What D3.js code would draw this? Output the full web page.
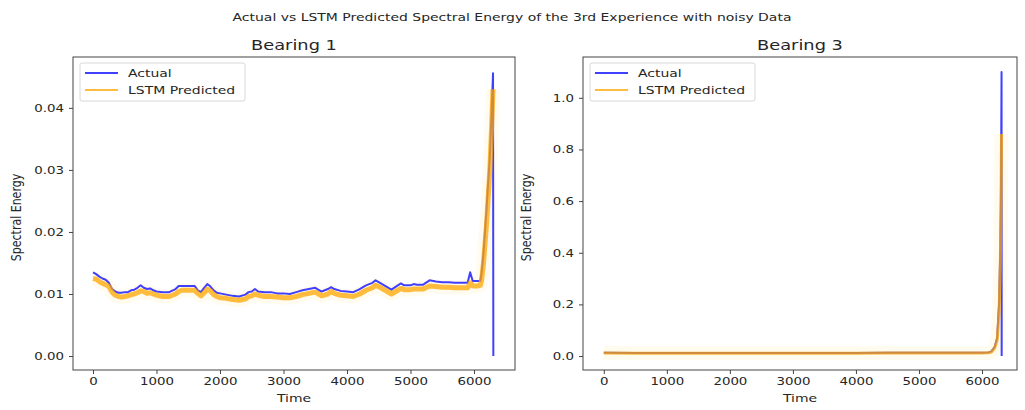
<!DOCTYPE html>
<html>
<head>
<meta charset="utf-8">
<script src="https://cdn.jsdelivr.net/npm/d3@7/dist/d3.min.js"></script>
<style>
  html, body { margin: 0; padding: 0; background: #fff; }
  svg { display: block; }
  text { font-family: "DejaVu Sans", sans-serif; fill: #262626; }
</style>
</head>
<body>
<svg id="chart" width="1025" height="410"></svg>
<script>
// ---- data -------------------------------------------------------------
const figureTitle = "Actual vs LSTM Predicted Spectral Energy of the 3rd Experience with noisy Data";
const panelTitles = ["Bearing 1", "Bearing 3"];
const seriesNames = ["Actual", "LSTM Predicted"];
const xLabel = "Time";
const yLabel = "Spectral Energy";
const xTicks = [0, 1000, 2000, 3000, 4000, 5000, 6000];
const yTicksB1 = [0.00, 0.01, 0.02, 0.03, 0.04];
const yTicksB3 = [0.0, 0.2, 0.4, 0.6, 0.8, 1.0];

// Bearing 1: [time, spectral energy]
const b1Actual = [
  [0,0.0135],[50,0.0132],[100,0.0128],[150,0.0125],[200,0.0123],[250,0.0118],[300,0.0108],
  [350,0.0104],[400,0.0102],[450,0.0102],[500,0.0103],[550,0.0103],[600,0.0106],[650,0.0107],
  [700,0.0110],[750,0.0114],[800,0.0110],[850,0.0108],[900,0.0109],[950,0.0106],[1000,0.0104],
  [1100,0.0103],[1200,0.0103],[1300,0.0108],[1350,0.0113],[1400,0.0113],[1500,0.0113],
  [1600,0.0113],[1650,0.0106],[1700,0.0103],[1750,0.0110],[1800,0.0116],[1850,0.0112],
  [1900,0.0106],[1950,0.0102],[2000,0.0101],[2100,0.0099],[2200,0.0097],[2300,0.0096],
  [2400,0.0099],[2450,0.0103],[2500,0.0104],[2550,0.0108],[2600,0.0104],[2700,0.0103],
  [2800,0.0103],[2900,0.0101],[3000,0.0101],[3100,0.0100],[3200,0.0103],[3300,0.0106],
  [3400,0.0108],[3500,0.0110],[3600,0.0104],[3700,0.0108],[3750,0.0111],[3800,0.0108],
  [3900,0.0105],[4000,0.0104],[4100,0.0103],[4200,0.0108],[4300,0.0114],[4400,0.0118],
  [4450,0.0122],[4500,0.0119],[4600,0.0113],[4700,0.0107],[4800,0.0114],[4850,0.0117],
  [4900,0.0114],[5000,0.0114],[5050,0.0116],[5100,0.0115],[5200,0.0115],[5300,0.0122],
  [5400,0.0120],[5500,0.0119],[5600,0.0119],[5700,0.0118],[5800,0.0118],[5900,0.0118],
  [5940,0.0135],[5980,0.0121],[6050,0.0121],[6100,0.0121],[6120,0.0134],[6150,0.0165],
  [6200,0.0240],[6250,0.0322],[6280,0.0400],[6300,0.0456],[6305,0.0000]
];
const b1Predicted = [
  [0,0.0125],[50,0.0124],[100,0.0120],[150,0.0117],[200,0.0115],[250,0.0112],[300,0.0103],
  [350,0.0098],[400,0.0096],[450,0.0095],[500,0.0096],[550,0.0097],[600,0.0099],[650,0.0100],
  [700,0.0102],[750,0.0105],[800,0.0104],[850,0.0101],[900,0.0102],[950,0.0100],[1000,0.0098],
  [1100,0.0096],[1200,0.0096],[1300,0.0100],[1350,0.0104],[1400,0.0106],[1500,0.0106],
  [1600,0.0106],[1650,0.0101],[1700,0.0097],[1750,0.0102],[1800,0.0108],[1850,0.0105],
  [1900,0.0099],[1950,0.0096],[2000,0.0094],[2100,0.0093],[2200,0.0091],[2300,0.0090],
  [2400,0.0092],[2450,0.0096],[2500,0.0097],[2550,0.0100],[2600,0.0098],[2700,0.0096],
  [2800,0.0096],[2900,0.0095],[3000,0.0094],[3100,0.0094],[3200,0.0096],[3300,0.0099],
  [3400,0.0101],[3500,0.0103],[3600,0.0097],[3700,0.0100],[3750,0.0104],[3800,0.0101],
  [3900,0.0098],[4000,0.0097],[4100,0.0096],[4200,0.0100],[4300,0.0106],[4400,0.0110],
  [4450,0.0114],[4500,0.0112],[4600,0.0106],[4700,0.0100],[4800,0.0106],[4850,0.0109],
  [4900,0.0107],[5000,0.0107],[5050,0.0108],[5100,0.0108],[5200,0.0108],[5300,0.0113],
  [5400,0.0112],[5500,0.0111],[5600,0.0111],[5700,0.0110],[5800,0.0110],[5900,0.0110],
  [5940,0.0118],[5980,0.0113],[6050,0.0113],[6100,0.0114],[6120,0.0122],[6150,0.0150],
  [6200,0.0215],[6250,0.0300],[6280,0.0375],[6300,0.0430]
];

// Bearing 3: [time, spectral energy]
const b3Actual = [
  [0,0.013],[500,0.012],[1000,0.012],[1500,0.012],[2000,0.012],[2500,0.012],[3000,0.012],
  [3500,0.012],[4000,0.012],[4500,0.013],[5000,0.013],[5500,0.013],[6000,0.013],[6100,0.014],
  [6150,0.018],[6200,0.035],[6240,0.070],[6270,0.200],[6290,0.420],[6300,0.600],[6310,1.100],
  [6312,0.000]
];
const b3Predicted = [
  [0,0.012],[500,0.011],[1000,0.011],[1500,0.011],[2000,0.011],[2500,0.011],[3000,0.011],
  [3500,0.011],[4000,0.011],[4500,0.012],[5000,0.012],[5500,0.012],[6000,0.012],[6100,0.013],
  [6150,0.016],[6200,0.030],[6240,0.060],[6270,0.160],[6290,0.350],[6300,0.550],[6310,0.860]
];

// ---- layout -----------------------------------------------------------
const TEXT_STRETCH = 1.27;   // figure text is set wide
const colActual = "#0000ff";
const colPred = "#ffa500";

const panels = [
  { title: panelTitles[0], actual: b1Actual, pred: b1Predicted, yTicks: yTicksB1, fmt: d3.format(".2f"),
    predWidth: 5, left: 73, right: 515, top: 57, bottom: 370, xDomain: [-315, 6646], yDomain: [-0.00225, 0.0482] },
  { title: panelTitles[1], actual: b3Actual, pred: b3Predicted, yTicks: yTicksB3, fmt: d3.format(".1f"),
    predWidth: 3, left: 583, right: 1017, top: 57, bottom: 370, xDomain: [-330, 6555], yDomain: [-0.054, 1.158] }
];

const svg = d3.select("#chart");

// widen a text element about its own anchor point
function widen(sel, rotate) {
  sel.each(function () {
    const t = d3.select(this);
    const x = +t.attr("x") || 0, y = +t.attr("y") || 0;
    t.attr("transform", `translate(${x},${y}) scale(${TEXT_STRETCH},1)${rotate ? " rotate(" + rotate + ")" : ""} translate(${-x},${-y})`);
  });
}

svg.append("text")
  .attr("x", 512).attr("y", 21)
  .attr("text-anchor", "middle")
  .style("font-size", "11px")
  .text(figureTitle)
  .call(widen);

panels.forEach(p => {
  const x = d3.scaleLinear().domain(p.xDomain).range([p.left, p.right]);
  const y = d3.scaleLinear().domain(p.yDomain).range([p.bottom, p.top]);
  const g = svg.append("g");

  const clipId = "clip" + p.left;
  g.append("clipPath").attr("id", clipId)
    .append("rect").attr("x", p.left).attr("y", p.top)
    .attr("width", p.right - p.left).attr("height", p.bottom - p.top);

  const line = d3.line().x(d => x(d[0])).y(d => y(d[1]));
  const plot = g.append("g").attr("clip-path", `url(#${clipId})`);

  // faint spread of the noisy prediction
  plot.append("path").datum(p.pred).attr("d", line)
    .attr("fill", "none").attr("stroke", "#ffd84a").attr("stroke-width", 14)
    .attr("stroke-opacity", 0.09).attr("stroke-linejoin", "round");

  plot.append("path").datum(p.actual).attr("d", line)
    .attr("fill", "none").attr("stroke", colActual).attr("stroke-width", 2)
    .attr("stroke-opacity", 0.75).attr("stroke-linejoin", "round");

  plot.append("path").datum(p.pred).attr("d", line)
    .attr("fill", "none").attr("stroke", colPred).attr("stroke-width", p.predWidth)
    .attr("stroke-opacity", 0.75).attr("stroke-linejoin", "round");

  // axes
  const xAxis = g.append("g").attr("transform", `translate(0,${p.bottom})`)
    .call(d3.axisBottom(x).tickValues(xTicks).tickFormat(d3.format("d")).tickSize(4).tickPadding(4));
  const yAxis = g.append("g").attr("transform", `translate(${p.left},0)`)
    .call(d3.axisLeft(y).tickValues(p.yTicks).tickFormat(p.fmt).tickSize(4).tickPadding(5));
  [xAxis, yAxis].forEach(a => {
    a.select(".domain").remove();
    a.selectAll(".tick line").attr("stroke", "#444");
    a.selectAll(".tick text").style("font-size", "10.5px").attr("fill", "#262626")
      .style("font-family", "DejaVu Sans, sans-serif").call(widen);
  });

  // frame
  g.append("rect").attr("x", p.left).attr("y", p.top)
    .attr("width", p.right - p.left).attr("height", p.bottom - p.top)
    .attr("fill", "none").attr("stroke", "#444").attr("stroke-width", 1);

  // titles and labels
  const cx = (p.left + p.right) / 2;
  g.append("text").attr("x", cx).attr("y", 50).attr("text-anchor", "middle")
    .style("font-size", "14px").text(p.title).call(widen);
  g.append("text").attr("x", cx).attr("y", 402).attr("text-anchor", "middle")
    .style("font-size", "11px").text(xLabel).call(widen);
  g.append("text").attr("x", p.left - 52).attr("y", (p.top + p.bottom) / 2 + 4)
    .attr("text-anchor", "middle").style("font-size", "11px").text(yLabel)
    .call(s => widen(s, -90));

  // legend
  const lg = g.append("g").attr("transform", `translate(${p.left + 7},${p.top + 6})`);
  lg.append("rect").attr("width", 165).attr("height", 38).attr("rx", 2)
    .attr("fill", "#fff").attr("fill-opacity", 0.8).attr("stroke", "#d8d8d8");
  [[seriesNames[0], colActual], [seriesNames[1], colPred]].forEach(([name, c], i) => {
    const ly = 10 + i * 17;
    lg.append("line").attr("x1", 5).attr("x2", 38).attr("y1", ly).attr("y2", ly)
      .attr("stroke", c).attr("stroke-width", 2).attr("stroke-opacity", 0.75);
    lg.append("text").attr("x", 48).attr("y", ly + 4).style("font-size", "11px")
      .text(name).call(widen);
  });
});
</script>
</body>
</html>
